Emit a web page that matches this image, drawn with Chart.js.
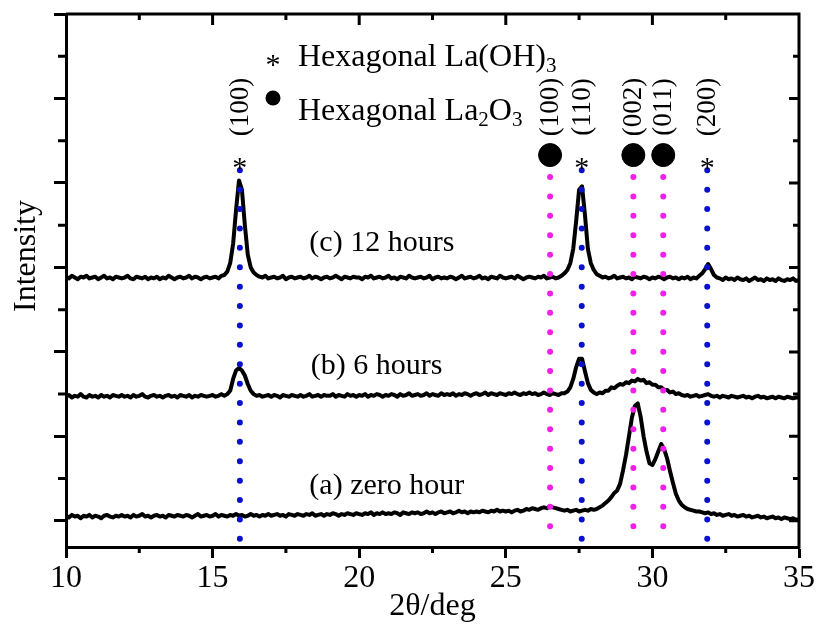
<!DOCTYPE html>
<html><head><meta charset="utf-8">
<script src="https://cdn.jsdelivr.net/npm/chart.js@4.4.1/dist/chart.umd.min.js"></script>
<style>html,body{margin:0;padding:0;background:#fff}</style>
</head><body>
<canvas id="c" width="817" height="626"></canvas>
<script>
// ---- data ----
const twoTheta = [
10,10.1,10.2,10.3,10.4,10.5,10.6,10.7,10.8,10.9,
11,11.1,11.2,11.3,11.4,11.5,11.6,11.7,11.8,11.9,
12,12.1,12.2,12.3,12.4,12.5,12.6,12.7,12.8,12.9,
13,13.1,13.2,13.3,13.4,13.5,13.6,13.7,13.8,13.9,
14,14.1,14.2,14.3,14.4,14.5,14.6,14.7,14.8,14.9,
15,15.1,15.2,15.3,15.4,15.5,15.6,15.7,15.8,15.9,
16,16.1,16.2,16.3,16.4,16.5,16.6,16.7,16.8,16.9,
17,17.1,17.2,17.3,17.4,17.5,17.6,17.7,17.8,17.9,
18,18.1,18.2,18.3,18.4,18.5,18.6,18.7,18.8,18.9,
19,19.1,19.2,19.3,19.4,19.5,19.6,19.7,19.8,19.9,
20,20.1,20.2,20.3,20.4,20.5,20.6,20.7,20.8,20.9,
21,21.1,21.2,21.3,21.4,21.5,21.6,21.7,21.8,21.9,
22,22.1,22.2,22.3,22.4,22.5,22.6,22.7,22.8,22.9,
23,23.1,23.2,23.3,23.4,23.5,23.6,23.7,23.8,23.9,
24,24.1,24.2,24.3,24.4,24.5,24.6,24.7,24.8,24.9,
25,25.1,25.2,25.3,25.4,25.5,25.6,25.7,25.8,25.9,
26,26.1,26.2,26.3,26.4,26.5,26.6,26.7,26.8,26.9,
27,27.1,27.2,27.3,27.4,27.5,27.6,27.7,27.8,27.9,
28,28.1,28.2,28.3,28.4,28.5,28.6,28.7,28.8,28.9,
29,29.1,29.2,29.3,29.4,29.5,29.6,29.7,29.8,29.9,
30,30.1,30.2,30.3,30.4,30.5,30.6,30.7,30.8,30.9,
31,31.1,31.2,31.3,31.4,31.5,31.6,31.7,31.8,31.9,
32,32.1,32.2,32.3,32.4,32.5,32.6,32.7,32.8,32.9,
33,33.1,33.2,33.3,33.4,33.5,33.6,33.7,33.8,33.9,
34,34.1,34.2,34.3,34.4,34.5,34.6,34.7,34.8,34.9,
35];

const zeroHour = [
6,4,7,5,6,3,6,5,7,4,
6,5,3,6,7,5,4,6,5,7,
5,6,4,7,5,6,8,5,6,4,
6,7,5,6,4,7,6,5,7,6,
5,7,6,4,6,8,5,6,7,5,
6,8,5,7,6,5,7,6,8,6,
7,5,6,8,6,7,5,7,6,8,
6,7,8,6,7,5,8,7,6,8,
7,6,8,7,9,6,7,8,6,8,
7,9,8,6,8,7,9,8,7,9,
8,7,9,8,10,7,9,8,10,8,
9,8,10,9,7,10,9,8,10,9,
10,8,9,11,9,10,8,10,11,9,
10,11,9,10,12,10,11,9,11,10,
11,10,12,11,10,12,11,13,11,12,
11,12,10,12,13,11,12,14,13,15,
14,13,15,16,15,17,16,15,14,13,
12,13,11,12,13,11,12,13,12,14,
13,14,16,18,21,24,28,33,36,44,
60,78,100,122,136,139,123,100,82,68,
66,73,82,91,85,74,59,45,32,24,
19,16,14,13,12,11,11,10,9,10,
8,9,7,8,6,7,8,6,7,5,
6,7,5,6,4,5,6,4,5,3,
4,5,3,4,2,4,3,2,3,1,
2];

const sixHours = [
147,149,146,148,147,150,147,146,149,147,
148,146,149,147,148,146,149,148,147,149,
147,148,146,149,147,148,150,147,146,148,
149,147,148,146,148,149,147,148,146,149,
148,147,149,146,148,147,149,148,147,148,
149,147,148,150,148,150,154,168,178,181,
178,172,162,154,150,148,149,147,148,149,
147,149,148,146,149,148,147,149,148,147,
149,147,148,150,147,148,149,147,149,148,
148,150,147,149,148,147,150,148,149,147,
149,148,150,147,149,148,150,149,147,149,
148,150,149,147,150,148,149,151,148,149,
150,148,149,151,148,150,149,148,151,149,
150,149,151,148,150,149,151,150,148,150,
151,149,150,152,149,151,150,149,151,150,
149,151,150,152,150,149,151,150,152,150,
151,149,150,152,150,149,151,150,149,151,
151,153,158,168,182,192,192,177,163,155,
152,150,152,151,154,154,158,157,160,162,
161,164,163,166,165,168,166,167,163,164,
161,161,158,158,155,155,152,153,150,151,
149,148,149,147,148,149,147,148,149,150,
148,147,148,146,148,147,146,148,147,146,
147,148,146,147,145,147,148,146,147,145,
146,147,145,147,146,145,147,146,145,146,
146];

const twelveHours = [
289,287,290,288,286,289,288,290,287,288,
289,286,288,290,287,288,286,289,288,287,
288,290,287,286,289,288,287,289,286,288,
287,289,286,288,287,290,288,286,288,289,
287,288,290,287,289,288,286,288,289,287,
288,289,287,290,291,295,305,328,368,403,
392,350,315,300,294,291,289,288,290,287,
288,289,287,288,290,286,288,289,287,288,
289,287,288,290,287,289,288,286,288,289,
287,288,290,288,286,289,288,287,289,288,
288,286,289,288,290,287,288,289,287,288,
290,287,288,286,289,288,287,290,288,287,
288,289,287,288,290,286,288,289,287,288,
287,289,288,286,288,290,287,288,289,287,
288,290,287,288,286,289,288,287,290,288,
287,288,289,287,290,288,286,288,289,288,
287,289,288,290,287,288,289,287,288,290,
293,297,305,322,355,392,396,362,322,305,
297,292,290,288,289,287,288,290,287,288,
289,287,288,286,289,288,287,289,288,286,
288,287,289,288,286,288,289,287,288,286,
288,287,289,286,288,287,290,293,298,304,
298,291,288,287,285,288,286,287,285,288,
286,285,287,284,286,288,285,286,284,287,
285,286,284,287,285,284,286,285,287,284,
285];

const seriesLabels = ['(a) zero hour', '(b) 6 hours', '(c) 12 hours'];
const seriesLabelX = [18.3, 18.35, 18.3];
const seriesLabelY = [41, 183, 329];

const laOH3Peaks = [15.93, 27.59, 31.87];
const laOH3Hkl = ['(100)', '(110)', '(200)'];
const la2O3Peaks = [26.51, 29.35, 30.37];
const la2O3Hkl = ['(100)', '(002)', '(011)'];

const xMajorTicks = [10, 15, 20, 25, 30, 35];
const xMinorTicks = [12.5, 17.5, 22.5, 27.5, 32.5];
const yMajorTicks = [0, 100, 200, 300, 400, 500, 600];
const yMinorTicks = [50, 150, 250, 350, 450, 550];

// levels (in intensity units) of the annotation rows
const lineTopLaOH3 = 415, lineTopLa2O3 = 407, lineBottomLa2O3 = -14;
const markerLevelCircle = 433, markerLevelStar = 426, hklLevel = 490;

// ---- build ----
const FONT = '"Liberation Serif", "Times New Roman", Times, serif';
const xy = ys => twoTheta.map((t, i) => ({x: t, y: ys[i]}));

const datasets = [];
laOH3Peaks.forEach(p => datasets.push({
  type: 'line', data: [{x: p, y: lineTopLaOH3}, {x: p, y: -31}],
  borderColor: '#0a10d0', borderWidth: 6, borderDash: [0, 19.4], borderCapStyle: 'round',
  pointRadius: 0, order: 0
}));
la2O3Peaks.forEach(p => datasets.push({
  type: 'line', data: [{x: p, y: lineTopLa2O3}, {x: p, y: lineBottomLa2O3}],
  borderColor: '#f020e8', borderWidth: 6, borderDash: [0, 19.4], borderCapStyle: 'round',
  pointRadius: 0, order: 0
}));
datasets.push({
  type: 'scatter', data: la2O3Peaks.map(p => ({x: p, y: markerLevelCircle})),
  pointRadius: 11.5, pointStyle: 'circle', backgroundColor: '#000', borderColor: '#000', order: 0
});
[zeroHour, sixHours, twelveHours].forEach(s => datasets.push({
  type: 'line', data: xy(s), borderColor: '#000', borderWidth: 4, pointRadius: 0,
  tension: 0, order: 1, borderJoinStyle: 'round'
}));

const decor = {
  id: 'decor',
  afterDraw(chart) {
    const {ctx, chartArea: a, scales: {x, y}} = chart;
    ctx.save();
    ctx.strokeStyle = '#000';
    ctx.lineWidth = 3;
    ctx.lineCap = 'butt';
    ctx.beginPath();
    ctx.moveTo(a.left, a.top); ctx.lineTo(a.right + 1.5, a.top);
    ctx.moveTo(a.right, a.top); ctx.lineTo(a.right, a.bottom + 1.5);
    // bottom minor (outward)
    xMinorTicks.forEach(v => { const px = x.getPixelForValue(v); ctx.moveTo(px, a.bottom); ctx.lineTo(px, a.bottom + 6); });
    // top ticks (inward)
    xMajorTicks.slice(1, -1).forEach(v => { const px = x.getPixelForValue(v); ctx.moveTo(px, a.top); ctx.lineTo(px, a.top + 11); });
    xMinorTicks.forEach(v => { const px = x.getPixelForValue(v); ctx.moveTo(px, a.top); ctx.lineTo(px, a.top + 6); });
    // left minor (outward)
    yMinorTicks.forEach(v => { const py = y.getPixelForValue(v); ctx.moveTo(a.left, py); ctx.lineTo(a.left - 8, py); });
    // right ticks (inward)
    yMajorTicks.slice(0, -1).forEach(v => { const py = y.getPixelForValue(v); ctx.moveTo(a.right, py); ctx.lineTo(a.right - 10, py); });
    yMinorTicks.forEach(v => { const py = y.getPixelForValue(v); ctx.moveTo(a.right, py); ctx.lineTo(a.right - 6, py); });
    ctx.stroke();

    ctx.fillStyle = '#000';
    // asterisks above La(OH)3 lines
    ctx.font = '30px ' + FONT;
    ctx.textAlign = 'center';
    ctx.textBaseline = 'alphabetic';
    laOH3Peaks.forEach(p => ctx.fillText('*', x.getPixelForValue(p), y.getPixelForValue(markerLevelStar) + 16));

    // hkl labels, rotated
    ctx.font = '27px ' + FONT;
    ctx.textBaseline = 'middle';
    const hkl = (p, t) => {
      ctx.save();
      ctx.translate(x.getPixelForValue(p), y.getPixelForValue(hklLevel));
      ctx.rotate(-Math.PI / 2);
      ctx.fillText(t, 0, 1);
      ctx.restore();
    };
    laOH3Peaks.forEach((p, i) => hkl(p, laOH3Hkl[i]));
    la2O3Peaks.forEach((p, i) => hkl(p, la2O3Hkl[i]));

    // series labels
    ctx.font = '30px ' + FONT;
    ctx.textAlign = 'left';
    ctx.textBaseline = 'middle';
    seriesLabels.forEach((t, i) => ctx.fillText(t, x.getPixelForValue(seriesLabelX[i]), y.getPixelForValue(seriesLabelY[i])));

    // legend
    const lx = a.left + 207;
    ctx.textAlign = 'center';
    ctx.textBaseline = 'alphabetic';
    ctx.font = '30px ' + FONT;
    ctx.fillText('*', lx, a.top + 60);
    ctx.beginPath(); ctx.arc(lx, a.top + 84, 7.5, 0, Math.PI * 2); ctx.fill();
    ctx.textAlign = 'left';
    const tx = a.left + 232;
    const sub = (parts, bx, by) => {
      let cx = bx;
      parts.forEach(([t, s]) => {
        ctx.font = (s ? '21px ' : '32px ') + FONT;
        ctx.fillText(t, cx, by + (s ? 6 : 0));
        cx += ctx.measureText(t).width;
      });
    };
    sub([['Hexagonal La(OH)', 0], ['3', 1]], tx, a.top + 52);
    sub([['Hexagonal La', 0], ['2', 1], ['O', 0], ['3', 1]], tx, a.top + 106);

    // y axis title
    ctx.save();
    ctx.font = '32px ' + FONT;
    ctx.textAlign = 'center';
    ctx.textBaseline = 'middle';
    ctx.translate(27, 256);
    ctx.rotate(-Math.PI / 2);
    ctx.fillText('Intensity', 0, 0);
    ctx.restore();
    ctx.restore();
  }
};

new Chart(document.getElementById('c'), {
  type: 'line',
  data: {datasets},
  options: {
    responsive: false, devicePixelRatio: 1, animation: false,
    layout: {padding: {top: 14, right: 18, left: 0, bottom: 0}},
    plugins: {legend: {display: false}, tooltip: {enabled: false}},
    scales: {
      x: {
        type: 'linear', min: 10, max: 35,
        afterBuildTicks: s => { s.ticks = xMajorTicks.map(v => ({value: v})); },
        afterFit: s => { s.height = 79; },
        ticks: {font: {family: FONT, size: 32}, color: '#000', padding: 1, maxRotation: 0},
        grid: {drawOnChartArea: false, tickLength: 11, tickWidth: 3, color: '#000'},
        border: {display: true, width: 3, color: '#000'},
        title: {display: true, text: '2θ/deg', font: {family: FONT, size: 32}, color: '#000', padding: {top: 0, bottom: 0}}
      },
      y: {
        type: 'linear', min: -31, max: 600,
        afterBuildTicks: s => { s.ticks = yMajorTicks.map(v => ({value: v})); },
        afterFit: s => { s.width = 66; },
        ticks: {display: false},
        grid: {drawOnChartArea: false, tickLength: 12, tickWidth: 3, color: '#000'},
        border: {display: true, width: 3, color: '#000'}
      }
    }
  },
  plugins: [decor]
});
</script>
</body></html>
